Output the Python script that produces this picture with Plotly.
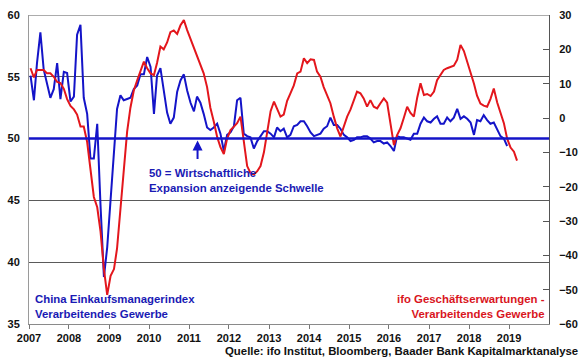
import plotly.graph_objects as go

# China official manufacturing PMI (monthly, Jan 2007 - Dec 2018), left axis
pmi = [
    55.1, 53.1, 56.1, 58.6, 55.6, 54.5, 53.3, 54.0, 56.1, 53.2, 55.4, 55.3,  # 2007
    53.0, 53.4, 58.4, 59.2, 53.3, 52.0, 48.4, 48.4, 51.2, 44.6, 38.8, 41.2,  # 2008
    45.3, 49.0, 52.4, 53.5, 53.1, 53.2, 53.3, 54.0, 54.3, 55.2, 55.2, 56.6,  # 2009
    55.8, 52.0, 55.1, 55.7, 53.9, 52.1, 51.2, 51.7, 53.8, 54.7, 55.2, 53.9,  # 2010
    52.9, 52.2, 53.4, 52.9, 52.0, 50.9, 50.7, 50.9, 51.2, 50.4, 49.0, 50.3,  # 2011
    50.5, 51.0, 53.1, 53.3, 50.4, 50.2, 50.1, 49.2, 49.8, 50.2, 50.6, 50.6,  # 2012
    50.4, 50.1, 50.9, 50.6, 50.8, 50.1, 50.3, 51.0, 51.1, 51.4, 51.4, 51.0,  # 2013
    50.5, 50.2, 50.3, 50.4, 50.8, 51.0, 51.7, 51.1, 51.1, 50.8, 50.3, 50.1,  # 2014
    49.8, 49.9, 50.1, 50.1, 50.2, 50.2, 50.0, 49.7, 49.8, 49.8, 49.6, 49.7,  # 2015
    49.4, 49.0, 50.2, 50.1, 50.1, 50.0, 49.9, 50.4, 50.4, 51.2, 51.7, 51.4,  # 2016
    51.3, 51.6, 51.8, 51.2, 51.2, 51.7, 51.4, 51.7, 52.4, 51.6, 51.8, 51.6,  # 2017
    51.3, 50.3, 51.5, 51.4, 51.9, 51.5, 51.2, 51.3, 50.8, 50.2, 50.0, 49.4,  # 2018
]

# ifo business expectations, manufacturing (monthly, Jan 2007 - Mar 2019), right axis
ifo = [
    14.5, 11.8, 14.0, 14.0, 14.0, 13.0, 13.0, 12.0, 10.5, 10.2, 8.5, 5.5,     # 2007
    3.5, 2.5, 1.0, -2.5, -2.5, -7.0, -15.0, -23.0, -26.0, -33.0, -44.0, -51.5,  # 2008
    -46.0, -44.0, -38.0, -27.0, -15.0, -4.0, 3.0, 8.0, 11.0, 14.0, 16.4, 14.5,  # 2009
    13.0, 12.5, 16.0, 20.8, 20.0, 22.0, 25.0, 25.5, 24.5, 27.0, 28.5, 25.6,   # 2010
    23.0, 21.0, 18.5, 16.0, 13.0, 9.0, 3.0, -1.0, -5.5, -8.5, -10.5, -6.0,    # 2011
    -3.5, -2.5, -1.5, 0.4, -6.4, -14.0, -16.0, -16.5, -15.5, -14.0, -10.0, -4.0,  # 2012
    2.0, 4.8, 2.5, 0.4, 1.0, 5.0, 7.2, 9.5, 13.0, 13.5, 17.4, 16.0,           # 2013
    17.1, 16.9, 13.5, 12.0, 9.0, 6.5, 4.3, 0.4, -3.0, -5.4, -2.5, 0.4,        # 2014
    2.5, 5.0, 7.7, 7.2, 5.7, 3.3, 5.2, 3.3, 2.8, 4.3, 5.7, 4.5,               # 2015
    -2.0, -7.9, -5.0, -3.0, 0.0, 3.3, 1.5, 0.4, 6.0, 10.1, 6.7, 7.0,          # 2016
    6.4, 7.7, 11.0, 12.5, 14.0, 14.5, 14.9, 15.2, 17.0, 21.3, 19.5, 16.5,     # 2017
    13.5, 10.0, 6.5, 4.2, 3.6, 3.3, 5.5, 8.6, 4.5, 1.5, -1.5, -6.0,           # 2018
    -8.6, -9.8, -12.4,                                                       # 2019
]

def month_dates(n):
    out = []
    for i in range(n):
        y, m = 2007 + i // 12, i % 12 + 1
        out.append(f"{y}-{m:02d}-15")
    return out

years = list(range(2007, 2020))
year_ticks = [f"{y}-01-01" for y in years]
year_labels = [str(y) for y in years]

BLUE = "#1414c8"
RED = "#e3161c"
TXT_BLUE = "#1a1ab4"
TXT_RED = "#d9151d"
GRID = "#5a5a5a"
FONT = "Liberation Sans"
ANN = 11.4

fig = go.Figure()
fig.add_trace(go.Scatter(x=month_dates(len(pmi)), y=pmi, mode="lines",
                         line=dict(color=BLUE, width=2), yaxis="y",
                         name="China Einkaufsmanagerindex"))
fig.add_trace(go.Scatter(x=month_dates(len(ifo)), y=ifo, mode="lines",
                         line=dict(color=RED, width=2), yaxis="y2",
                         name="ifo Geschäftserwartungen"))

fig.update_layout(
    width=580, height=359,
    margin=dict(l=29, r=31, t=15, b=35),
    paper_bgcolor="white", plot_bgcolor="white",
    showlegend=False,
    font=dict(family=FONT, size=11, color="#111111"),
    xaxis=dict(type="date", range=["2007-01-01", "2020-01-01"],
               tickvals=year_ticks, ticktext=year_labels,
               ticks="outside", ticklen=4, tickcolor="#777777",
               showgrid=False, showline=True, linecolor="#8a8a8a", linewidth=1,
               tickfont=dict(family=FONT, size=11, color="#111111", weight="bold"),
               zeroline=False, automargin=False),
    yaxis=dict(range=[35, 60], tickvals=[35, 40, 45, 50, 55, 60],
               showgrid=True, gridcolor=GRID, gridwidth=1,
               showline=True, linecolor="#9a9a9a", linewidth=1,
               ticks="", zeroline=False, ticklabelstandoff=6, automargin=False,
               tickfont=dict(family=FONT, size=11, color="#111111", weight="bold")),
    yaxis2=dict(range=[-60, 30], tickvals=list(range(-60, 31, 10)),
                overlaying="y", side="right", showgrid=False,
                showline=True, linecolor="#555555", linewidth=1,
                ticks="inside", ticklen=6, tickcolor="#555555",
                zeroline=False, ticklabelstandoff=7, automargin=False,
                tickfont=dict(family=FONT, size=11, color="#111111", weight="bold")),
)

# top border at 60 and thick 50 threshold line
fig.add_shape(type="line", xref="paper", x0=0, x1=1, yref="y", y0=60, y1=60,
              line=dict(color=GRID, width=1))
fig.add_shape(type="line", xref="paper", x0=0, x1=1, yref="y", y0=50, y1=50,
              line=dict(color=BLUE, width=2.5))

# arrow to the 50 line
fig.add_annotation(x="2011-03-20", y=50, xref="x", yref="y", text="",
                   showarrow=True, ax=0, ay=22, arrowhead=2, arrowsize=1,
                   arrowwidth=2, arrowcolor=BLUE, standoff=2)

fig.add_annotation(x="2009-12-16", y=46.6, xref="x", yref="y",
                   text="<b>50 = Wirtschaftliche<br>Expansion anzeigende Schwelle</b>",
                   showarrow=False, xanchor="left", yanchor="middle", align="left",
                   font=dict(family=FONT, size=ANN, color=TXT_BLUE))

fig.add_annotation(x=0.008, y=36.45, xref="paper", yref="y",
                   text="<b>China Einkaufsmanagerindex<br>Verarbeitendes Gewerbe</b>",
                   showarrow=False, xanchor="left", yanchor="middle", align="left",
                   font=dict(family=FONT, size=ANN, color=TXT_BLUE))

fig.add_annotation(x=0.996, y=36.45, xref="paper", yref="y",
                   text="<b>ifo Geschäftserwartungen -<br>Verarbeitendes Gewerbe</b>",
                   showarrow=False, xanchor="right", yanchor="middle", align="right",
                   font=dict(family=FONT, size=ANN, color=TXT_RED))

fig.add_annotation(x=1.06, y=-0.087, xref="paper", yref="paper",
                   text="<b>Quelle: ifo Institut, Bloomberg, Baader Bank Kapitalmarktanalyse</b>",
                   showarrow=False, xanchor="right", yanchor="middle", align="right",
                   font=dict(family=FONT, size=ANN, color="#111111"))

fig.write_html("out.html", config={"displayModeBar": False},
               post_script="document.body.style.margin='0';document.body.style.overflow='hidden';")
